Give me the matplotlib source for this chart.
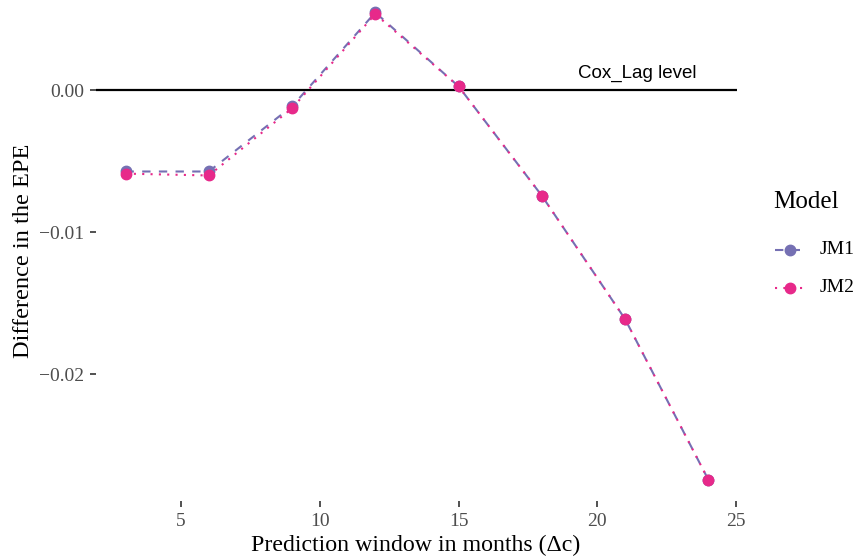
import numpy as np
import matplotlib.pyplot as plt
from matplotlib.lines import Line2D

# prediction windows (months) and EPE differences vs Cox_Lag
months = [3, 6, 9, 12, 15, 18, 21, 24]
jm1 = [-0.00572, -0.00572, -0.00113, 0.00548, 0.00028, -0.00742, -0.01611, -0.02742]
jm2 = [-0.00587, -0.00600, -0.00127, 0.00537, 0.00028, -0.00742, -0.01611, -0.02742]
models = ['JM1', 'JM2']
colors = ['#7570B3', '#E7298A']
styles = [(0, (4, 4)), (0, (1, 3))]

serif = ['Liberation Serif', 'DejaVu Serif']
sans = ['Liberation Sans', 'DejaVu Sans']

W, H = 859, 558
fig = plt.figure(figsize=(W / 100, H / 100), dpi=100)
# panel box in pixels: left, top, right, bottom
l, t, r, b = 96.4, 0, 737.4, 501
ax = fig.add_axes([l / W, 1 - b / H, (r - l) / W, (b - t) / H])

ax.axhline(0, color='black', lw=1.6, zorder=1)
ax.text(21.45, 0.0009, 'Cox_Lag level', family=sans, fontsize=13.5,
        ha='center', va='baseline')

for y, c, ls, z in zip([jm1, jm2], colors, styles, [2, 4]):
    ax.plot(months, y, color=c, lw=1.5, ls=ls, zorder=z)
    ax.plot(months, y, 'o', color=c, ms=7.5, zorder=z + 1)

ax.set_xlim(1.95, 25.05)
ax.set_ylim(-0.02893, 0.00636)
ax.set_xticks([5, 10, 15, 20, 25])
ax.set_yticks([0.0, -0.01, -0.02])
ax.set_yticklabels(['0.00', '\u22120.01', '\u22120.02'])
for s in ax.spines.values():
    s.set_visible(False)
ax.tick_params(length=4.5, width=1.2, color='#333333', labelcolor='#4d4d4d',
               labelsize=14, pad=4)
for lab in ax.get_xticklabels() + ax.get_yticklabels():
    lab.set_family(serif)

fig.text(416 / W, 1 - 545 / H, 'Prediction window in months (\u0394c)',
         family=serif, fontsize=17.2, ha='center', va='center')
fig.text(24 / W, 1 - 251 / H, 'Difference in the EPE', family=serif,
         fontsize=17.6, ha='center', va='center', rotation=90)

# legend drawn by hand
fig.text(773 / W, 1 - 202 / H, 'Model', family=serif, fontsize=18,
         ha='left', va='center')
for i, (name, c, ls) in enumerate(zip(models, colors, styles)):
    yy = 1 - (250 + 38 * i) / H
    fig.add_artist(Line2D([775 / W, 805 / W], [yy, yy], color=c, lw=1.5, ls=ls))
    fig.add_artist(Line2D([790 / W], [yy], color=c, marker='o', ms=7.5))
    fig.text(820 / W, yy, name, family=serif, fontsize=14, ha='left', va='center')

fig.savefig('out.png', dpi=100)
